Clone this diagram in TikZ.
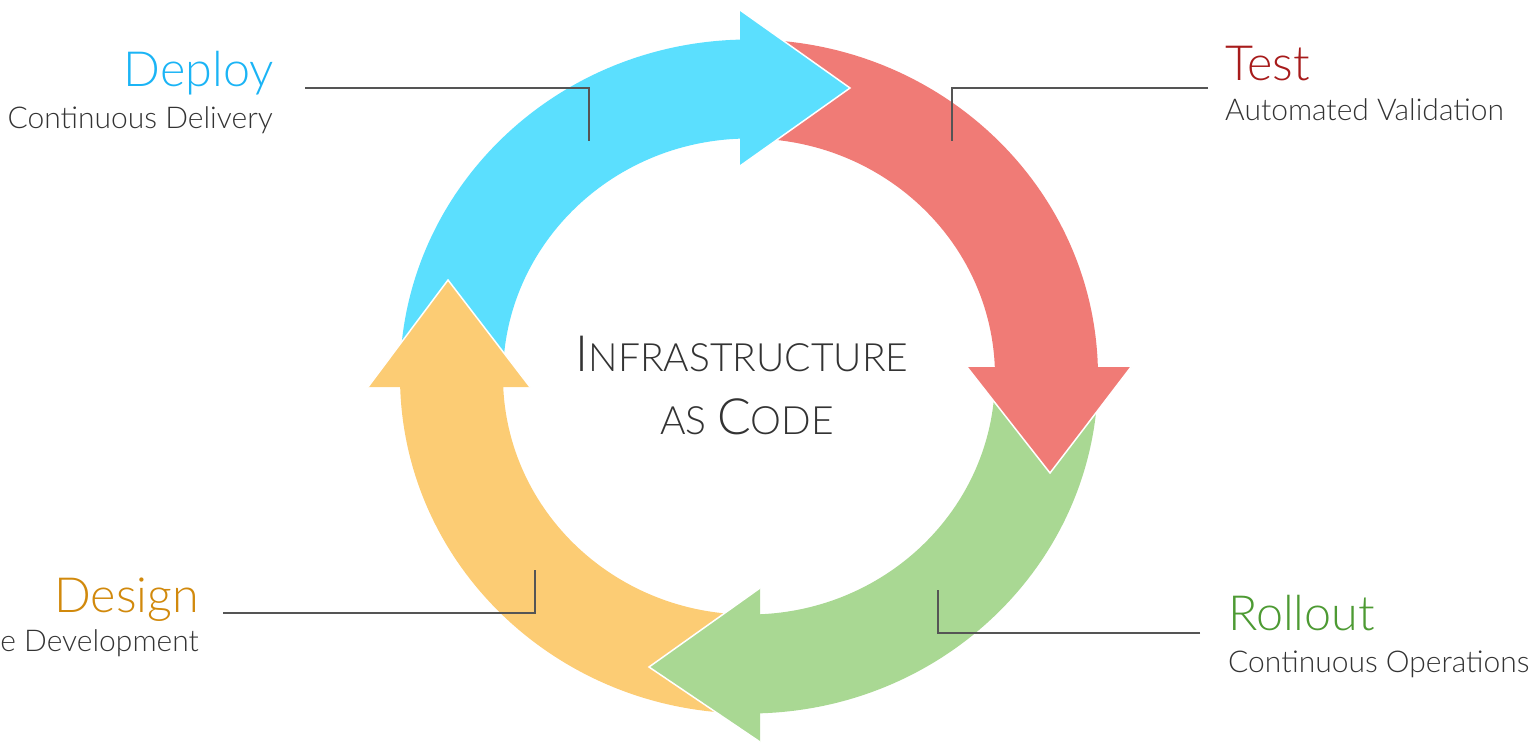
\documentclass[tikz,border=0pt]{standalone}
\usepackage{fontspec}
\IfFontExistsTF{Lato Light}{\setmainfont{Lato Light}}{\setmainfont{Liberation Sans}}
\usetikzlibrary{calc}
\definecolor{cblue}{HTML}{5BDFFE}
\definecolor{cred}{HTML}{F07B76}
\definecolor{cgreen}{HTML}{A9D893}
\definecolor{cyellow}{HTML}{FCCC74}
\definecolor{tblue}{HTML}{1BB4F5}
\definecolor{tred}{HTML}{A71B1B}
\definecolor{tgreen}{HTML}{4D9A33}
\definecolor{tyellow}{HTML}{D1890C}
\definecolor{tgray}{HTML}{333333}
\definecolor{lgray}{HTML}{555555}
\tikzset{
  title/.style={inner sep=0pt, font=\fontsize{48.5}{48.5}\selectfont},
  subtitle/.style={inner sep=0pt, text=tgray, font=\fontsize{30}{30}\selectfont},
  leader/.style={draw=lgray, line width=2.5pt},
  headedge/.style={draw=white, line width=1.5pt, line join=miter},
  center/.style={inner sep=0pt, text=tgray}
}
\newcommand{\band}[3]{% color, start, end
  \fill[#1] ($(c)+(#2:349 and 337)$) arc[start angle=#2, end angle=#3, x radius=349, y radius=337]
    -- ($(c)+(#3:246 and 238)$) arc[start angle=#3, end angle=#2, x radius=246, y radius=238] -- cycle;}
\begin{document}
\begin{tikzpicture}[x=1pt,y=-1pt]
\useasboundingbox (0,0) rectangle (1532,744);
\coordinate (c) at (749,376.5);
% bands
\band{cblue}{179}{269}
\band{cred}{269}{359}
\band{cgreen}{-1}{89}
\band{cyellow}{89}{179}
% heads
\coordinate (bh1) at (740,10);  \coordinate (bht) at (850,88);  \coordinate (bh2) at (740,166);
\coordinate (rh1) at (967,367); \coordinate (rht) at (1050,473); \coordinate (rh2) at (1131,367);
\coordinate (gh1) at (760,588); \coordinate (ght) at (649,667); \coordinate (gh2) at (760,742);
\coordinate (yh1) at (368,387); \coordinate (yht) at (448,280); \coordinate (yh2) at (530,387);
\fill[cblue] (bh1) -- (bht) -- (bh2) -- cycle;
\draw[headedge] (bh1) -- (bht) -- (bh2);
\fill[cred] (rh1) -- (rht) -- (rh2) -- cycle;
\draw[headedge] (rh1) -- (rht) -- (rh2);
\fill[cgreen] (gh1) -- (ght) -- (gh2) -- cycle;
\draw[headedge] (gh1) -- (ght) -- (gh2);
\fill[cyellow] (yh1) -- (yht) -- (yh2) -- cycle;
\draw[headedge] (yh1) -- (yht) -- (yh2);
% leader lines
\coordinate (dA) at (305,88);  \coordinate (dB) at (589,88);  \coordinate (dC) at (589,141);
\coordinate (tA) at (1208,88); \coordinate (tB) at (952,88);  \coordinate (tC) at (952,141);
\coordinate (sA) at (223,613); \coordinate (sB) at (535,613); \coordinate (sC) at (535,570);
\coordinate (oA) at (1200,633);\coordinate (oB) at (938,633); \coordinate (oC) at (938,590);
\draw[leader] (dA) -- (dB) -- (dC);
\draw[leader] (tA) -- (tB) -- (tC);
\draw[leader] (sA) -- (sB) -- (sC);
\draw[leader] (oA) -- (oB) -- (oC);
% labels
\node[title, text=tblue, anchor=base east] (deploy) at (274,86) {Deploy};
\node[subtitle, anchor=base east] (deploys) at (273,128) {Continuous Delivery};
\node[title, text=tred, anchor=base west] (test) at (1225,80) {Test};
\node[subtitle, anchor=base west] (tests) at (1225,120) {Automated Validation};
\node[title, text=tyellow, anchor=base east] (design) at (199,612) {Design};
\node[subtitle, anchor=base east] (designs) at (199,651) {e Development};
\node[title, text=tgreen, anchor=base west] (rollout) at (1228,630) {Rollout};
\node[subtitle, anchor=base west] (rollouts) at (1228,672) {Continuous Operations};
% center
\node[center, anchor=base] (iac1) at (742,371) {{\fontsize{50}{50}\selectfont I}{\fontsize{39}{39}\selectfont NFRASTRUCTURE}};
\node[center, anchor=base] (iac2) at (747,434) {{\fontsize{39}{39}\selectfont AS }{\fontsize{50}{50}\selectfont C}{\fontsize{39}{39}\selectfont ODE}};
\end{tikzpicture}
\end{document}
